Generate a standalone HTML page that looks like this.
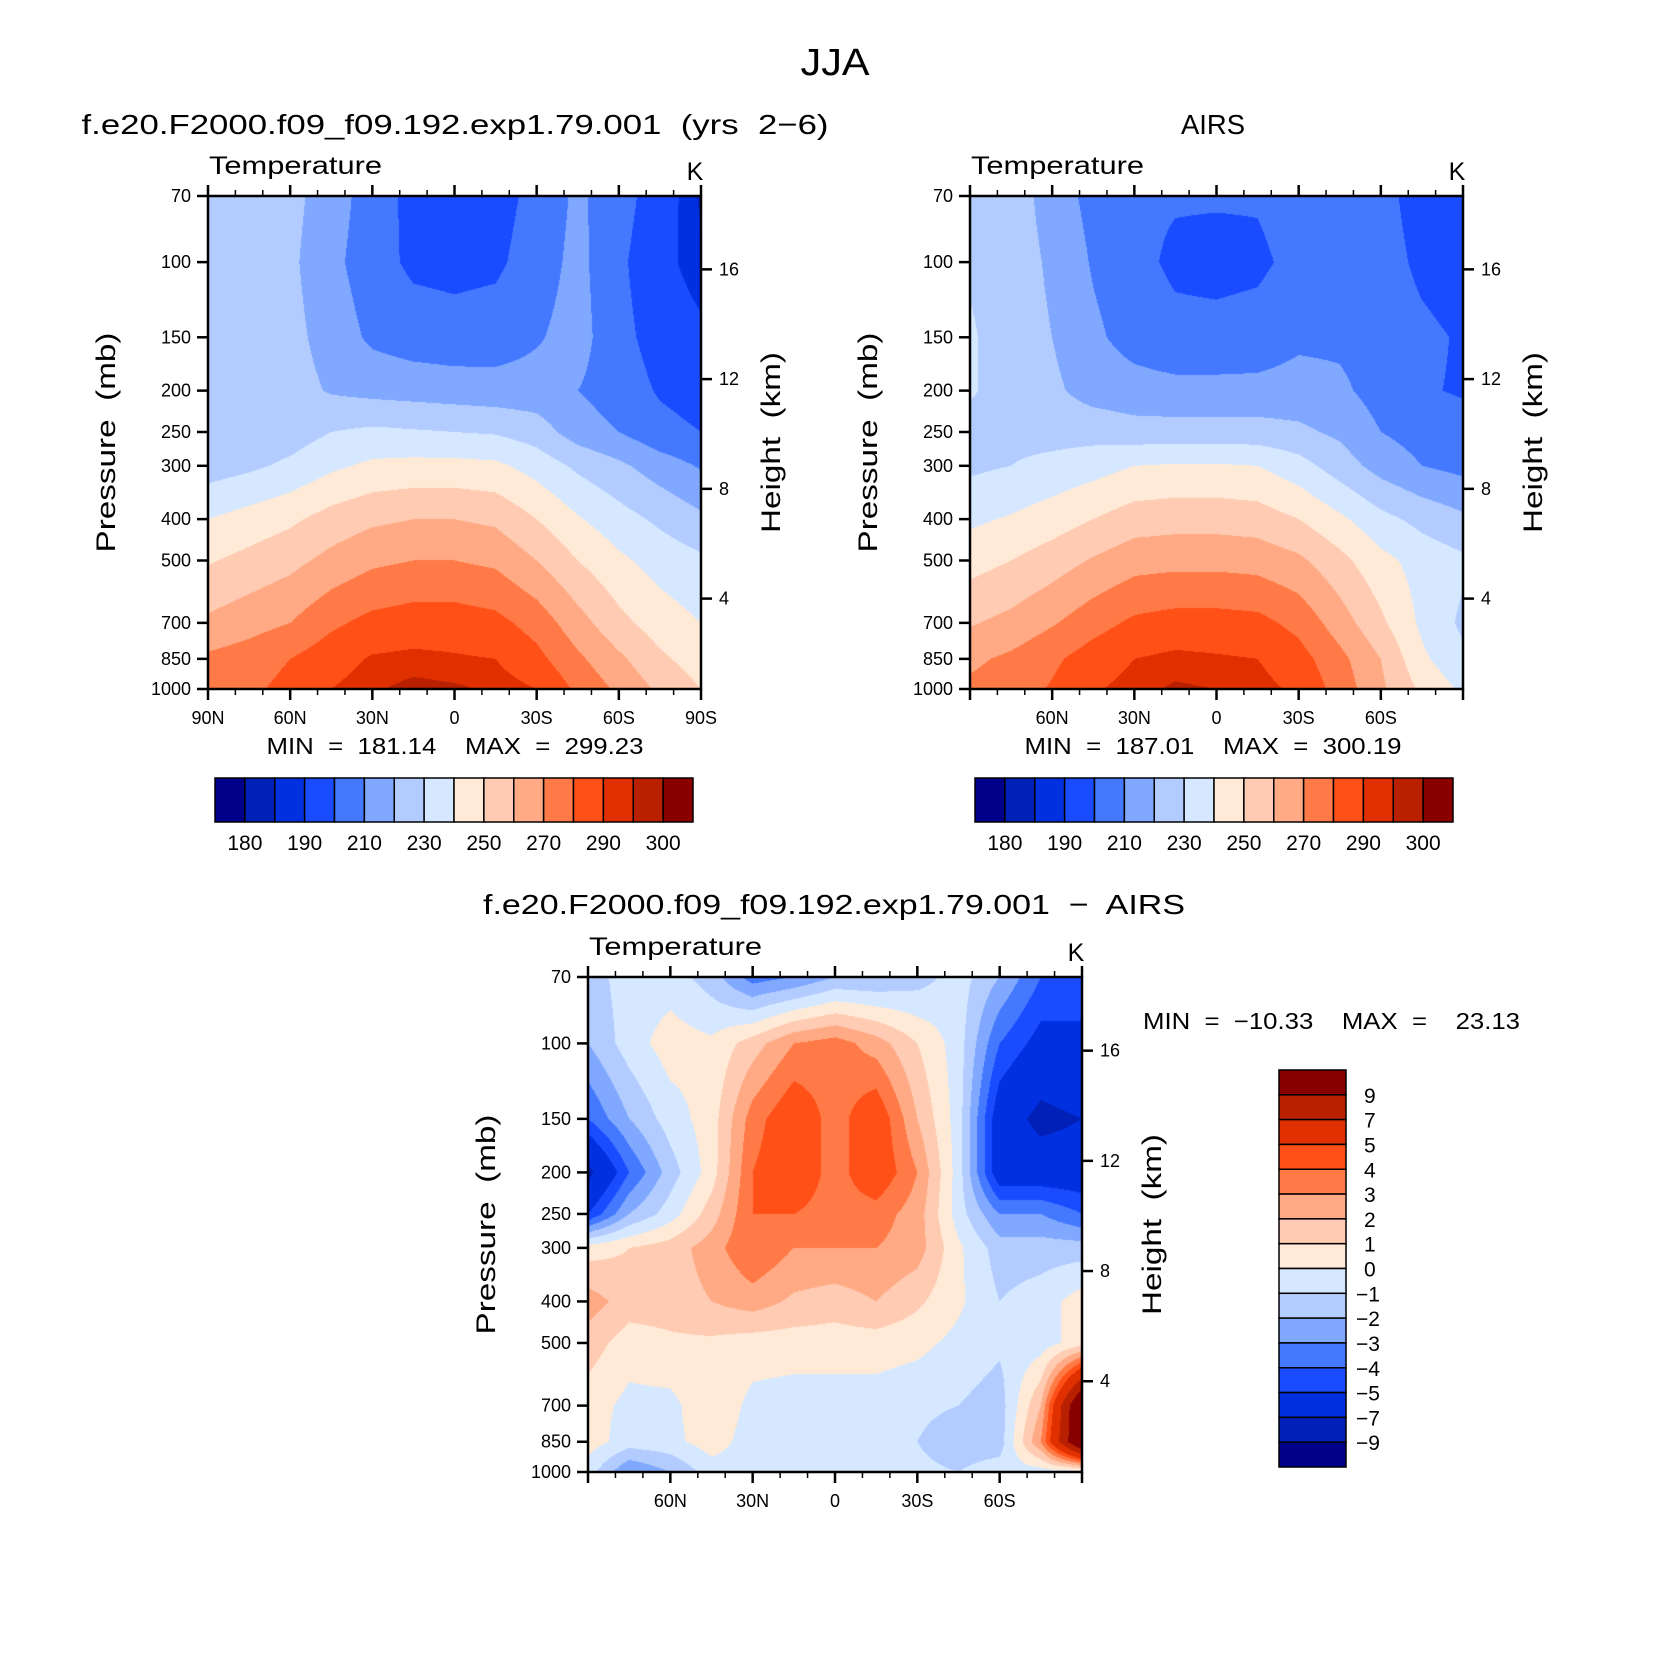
<!DOCTYPE html>
<html><head><meta charset="utf-8">
<style>
html,body{margin:0;padding:0;background:#fff;}
#wrap{position:relative;width:1663px;height:1666px;overflow:hidden;background:#fff;}
canvas{position:absolute;}
svg{position:absolute;left:0;top:0;}
text{font-family:"Liberation Sans",sans-serif;fill:#000;white-space:pre;}
</style></head>
<body>
<div id="wrap">
<canvas id="c1" width="493" height="493" style="left:208px;top:196px"></canvas>
<canvas id="c2" width="493" height="493" style="left:970px;top:196px"></canvas>
<canvas id="c3" width="494" height="495" style="left:588px;top:977px"></canvas>
<svg id="svg" width="1663" height="1666"></svg>
</div>
<script>
const lats=[90,75,60,45,30,15,0,-15,-30,-45,-60,-75,-90];
const plevs=[70,100,150,200,250,300,400,500,700,850,1000];
const modelT=[
[227,226,223,215,205,197,195,196,203,212,204,195,184],
[226,225,222,213,204,198,197,198,205,213,202,193,186],
[226,225,223,216,208,205,204,205,209,214,203,196,192],
[225,225,224,219,217,216,215,214,214,210,205,199,196],
[224,224,225,230,232,231,230,229,225,215,210,203,200],
[225,228,232,238,242,243,243,242,236,228,222,215,209],
[240,244,248,254,258,260,260,258,250,241,234,228,222],
[249,253,257,263,268,270,270,268,260,250,242,236,232],
[262,266,270,278,283,285,285,283,276,264,253,245,240],
[272,275,280,286,291,292,291,290,283,272,262,252,245],
[275,278,283,290,294,297,296,294,290,278,268,258,250]];
const airsT=[
[228,226,215,207,202,201,201,201,205,207,203,196,193],
[229,226,218,209,203,198,197,198,203,207,204,198,195],
[231,226,220,212,206,203,203,204,208,208,205,202,199],
[231,226,222,216,214,213,213,213,214,212,206,201,199],
[227,227,226,226,224,224,224,224,222,218,210,206,204],
[228,230,233,236,240,241,241,240,234,225,216,210,207],
[238,241,245,250,255,256,256,255,250,242,233,227,222],
[246,250,255,261,266,267,267,266,262,253,243,236,232],
[259,263,269,276,282,284,284,283,277,265,252,238,228],
[268,272,278,285,290,292,291,290,284,273,260,242,232],
[272,275,281,289,293,296,295,293,288,276,262,248,238]];
const diffT=[
[-1.5,-0.5,-0.5,-1.5,-3.5,-3,-2,-2,-1.5,-0.5,-2,-4,-5],
[-2,-0.5,0.5,0.2,1.5,3,3.5,2.5,1,-0.5,-4,-5.5,-5],
[-4,-2,-0.5,0.5,3.5,5,3.5,5,2,-0.5,-6,-7.5,-7],
[-7.5,-4,-1.5,0.5,4,5,3.5,5,3,-0.5,-6,-6,-6],
[-5,-2,-0.5,1.5,4,4,3.5,3.5,2.5,-0.5,-3,-3,-4],
[0.5,1,1.5,2.5,4,3,3,3,2.5,0.2,-1.5,-1.5,-1.5],
[2.5,1.5,1.5,2,2.5,1.8,1.5,2,1.2,0.2,-1,-0.5,0.5],
[1.5,0.5,0.8,0.8,0.5,0.5,0.5,0.5,0.3,-0.3,-0.8,-0.5,0.5],
[0.5,-0.3,-0.3,0.8,-0.3,-0.5,-0.5,-0.5,-0.8,-1,-1.5,2,12],
[0.5,-0.5,-0.3,0.5,-0.5,-0.5,-0.3,-0.5,-1,-1.5,-1.5,3,12],
[-0.5,-3,-2,-0.5,-0.5,-0.5,-0.5,-0.5,-0.8,-1,-0.5,-0.5,-0.5]];
const tempLevels=[180,185,190,200,210,220,230,240,250,260,270,280,290,295,300];
const tempLabels=["180","190","210","230","250","270","290","300"];
const diffLevels=[-9,-7,-5,-4,-3,-2,-1,0,1,2,3,4,5,7,9];
const diffLabels=["9","7","5","4","3","2","1","0","\u22121","\u22122","\u22123","\u22124","\u22125","\u22127","\u22129"];
const pLabels=[70,100,150,200,250,300,400,500,700,850,1000];
const hLabels=[4,8,12,16];
const palette=["#00008a","#0020b8","#0030e0","#1a4cff","#4479ff","#80a8ff","#b3ccff","#d6e8ff","#ffead8","#ffcbb2","#ffaa84","#ff7a46","#ff5018","#e03000","#b82000","#880000"];

const NS="http://www.w3.org/2000/svg";
const svg=document.getElementById('svg');
function mk(tag,attrs,parent){const e=document.createElementNS(NS,tag);for(const k in attrs)e.setAttribute(k,attrs[k]);(parent||svg).appendChild(e);return e;}
function txt(x,y,s,size,anchor,parent,len){const a={x:x,y:y,'font-size':size,'text-anchor':anchor||'middle'};if(len){a.textLength=len;a.lengthAdjust='spacingAndGlyphs';}const t=mk('text',a,parent);t.textContent=s;return t;}
function hex(c){return [parseInt(c.substr(1,2),16),parseInt(c.substr(3,2),16),parseInt(c.substr(5,2),16)];}
const pal=palette.map(hex);
const LP0=Math.log(70),LP1=Math.log(1000);
function yOfP(p,top,h){return top+h*(Math.log(p)-LP0)/(LP1-LP0);}
function xOfLat(lat,left,w){return left+w*(90-lat)/180;}
function yOfZ(z,top,h){const p=1110*Math.exp(-z/6.757);return yOfP(p,top,h);}

function fill(id,grid,levels){
  const cv=document.getElementById(id),ctx=cv.getContext('2d');
  const W=cv.width,H=cv.height,img=ctx.createImageData(W,H);
  const lp=plevs.map(p=>Math.log(p));
  for(let j=0;j<H;j++){
    const L=LP0+(LP1-LP0)*(j+0.5)/H;
    let r=0;while(r<plevs.length-2&&L>lp[r+1])r++;
    const fy=Math.min(1,Math.max(0,(L-lp[r])/(lp[r+1]-lp[r])));
    for(let i=0;i<W;i++){
      const lat=90-180*(i+0.5)/W;
      let fx=(90-lat)/15;let c=Math.min(lats.length-2,Math.floor(fx));fx-=c;
      const v=(grid[r][c]*(1-fx)+grid[r][c+1]*fx)*(1-fy)+(grid[r+1][c]*(1-fx)+grid[r+1][c+1]*fx)*fy;
      let k=0;while(k<levels.length&&v>=levels[k])k++;
      const col=pal[k],o=(j*W+i)*4;
      img.data[o]=col[0];img.data[o+1]=col[1];img.data[o+2]=col[2];img.data[o+3]=255;
    }
  }
  ctx.putImageData(img,0,0);
}

function axes(left,top,w,h,allLat,tag){
  const g=mk('g',{});
  
  
  const box=mk('rect',{x:left,y:top,width:w,height:h,fill:'none',stroke:'#000','stroke-width':2.5},g);
  
  
  for(let lat=90;lat>=-90;lat-=10){
    const x=xOfLat(lat,left,w),maj=lat%30===0,L=maj?11:6;
    mk('line',{x1:x,y1:top,x2:x,y2:top-L,stroke:'#000','stroke-width':maj?2.5:1.5},g);
    mk('line',{x1:x,y1:top+h,x2:x,y2:top+h+L,stroke:'#000','stroke-width':maj?2.5:1.5},g);
    if(maj&&(allLat||Math.abs(lat)<90)){
      const s=lat===0?'0':Math.abs(lat)+(lat>0?'N':'S');
      const t=txt(x,top+h+35,s,18,'middle',g);
      
      
    }
  }
  pLabels.forEach(p=>{
    const y=yOfP(p,top,h);
    mk('line',{x1:left,y1:y,x2:left-11,y2:y,stroke:'#000','stroke-width':2.5},g);
    const t=txt(left-17,y+6,String(p),18,'end',g);
    
    
  });
  hLabels.forEach(z=>{
    const y=yOfZ(z,top,h);
    mk('line',{x1:left+w,y1:y,x2:left+w+11,y2:y,stroke:'#000','stroke-width':2.5},g);
    const t=txt(left+w+18,y+6,String(z),18,'start',g);
    
    
  });
  const a=txt(left+1,top-22,'Temperature',25,'start',g,173);
  
  
  const k=txt(left+w-6,top-16,'K',25,'middle',g);
  
  
  const yl=txt(0,0,'Pressure  (mb)',27,'middle',g,220);
  yl.setAttribute('transform','translate('+(left-93)+','+(top+h/2)+') rotate(-90)');
  
  
  const hl=txt(0,0,'Height  (km)',27,'middle',g,181);
  hl.setAttribute('transform','translate('+(left+w+79)+','+(top+h/2)+') rotate(-90)');
  
  
}

function hbar(left,top,w,h,tag){
  const g=mk('g',{});
  
  
  const bw=w/palette.length;
  palette.forEach((c,i)=>{
    const r=mk('rect',{x:left+i*bw,y:top,width:bw,height:h,fill:c,stroke:'#000','stroke-width':1.5},g);
    
    
  });
  tempLabels.forEach((s,i)=>{
    const t=txt(left+(2*i+1)*bw,top+h+28,s,21,'middle',g);
    
    
  });
}
function vbar(left,top,w,h){
  const g=mk('g',{});
  
  
  const bh=h/palette.length;
  for(let i=0;i<palette.length;i++){
    const r=mk('rect',{x:left,y:top+i*bh,width:w,height:bh,fill:palette[palette.length-1-i],stroke:'#000','stroke-width':1.5},g);
    
    
  }
  diffLabels.forEach((s,i)=>{
    const t=txt(left+w+(s.length>1?10:18),top+(i+1)*bh+8,s,21,'start',g);
    
    
  });
}

fill('c1',modelT,tempLevels);
fill('c2',airsT,tempLevels);
fill('c3',diffT,diffLevels);

const T=txt(835,75,'JJA',38,'middle',null,69);


const t1=txt(455,134,'f.e20.F2000.f09_f09.192.exp1.79.001  (yrs  2\u22126)',28,'middle',null,747);


const t2=txt(1213,134,'AIRS',28,'middle',null,64);


const t3=txt(834,914,'f.e20.F2000.f09_f09.192.exp1.79.001  \u2212  AIRS',28,'middle',null,702);



axes(208,196,493,493,true,'model');
axes(970,196,493,493,false,'airs');
axes(588,977,494,495,false,'difference');

const m1=txt(455,754,'MIN  =  181.14    MAX  =  299.23',23,'middle',null,377);


const m2=txt(1213,754,'MIN  =  187.01    MAX  =  300.19',23,'middle',null,377);


const m3=txt(1143,1029,'MIN  =  \u221210.33    MAX  =    23.13',23,'start',null,377);



hbar(215,778,478,44,'model');
hbar(975,778,478,44,'airs');
vbar(1279,1070,67,397);
</script>
</body></html>
